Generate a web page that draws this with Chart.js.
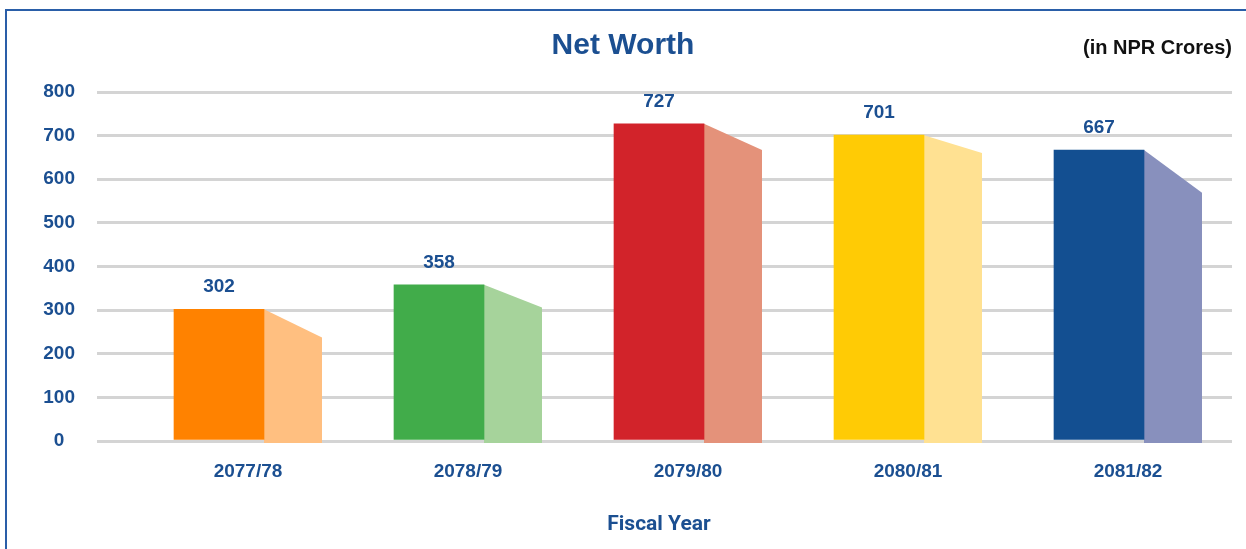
<!DOCTYPE html>
<html>
<head>
<meta charset="utf-8">
<script src="https://cdn.jsdelivr.net/npm/chart.js@4.4.1/dist/chart.umd.min.js"></script>
<style>
  body { margin: 0; background: #fff; }
  #wrap { position: relative; width: 1246px; height: 549px; overflow: hidden; }
  #frame { position: absolute; left: 5px; top: 9px; width: 1300px; height: 600px; border: 2px solid #2a5ea8; box-sizing: border-box; }
  #netWorth { position: absolute; left: 0; top: 0; }
</style>
</head>
<body>
<div id="wrap">
  <div id="frame"></div>
  <canvas id="netWorth" width="1246" height="549"></canvas>
</div>
<script>
// fiscal years and net worth (NPR crores)
const years = ['2077/78', '2078/79', '2079/80', '2080/81', '2081/82'];
const netWorth = [302, 358, 727, 701, 667];
// where the lighter side piece ends on its right edge
const sideEnd = [237, 306, 667, 660, 569];
const yTicks = [0, 100, 200, 300, 400, 500, 600, 700, 800];

const barColors = ['#ff8200', '#41ac4a', '#d2232a', '#ffcb05', '#134f91'];
const sideColors = ['#ffbf80', '#a6d39b', '#e4927a', '#ffe192', '#8890bd'];

const blue = '#1b4f91';

// light sloped piece next to each bar
const sidePlugin = {
    id: 'sidePiece',
    beforeDatasetsDraw(chart) {
        const ctx = chart.ctx;
        const y = chart.scales.y;
        const meta = chart.getDatasetMeta(0);
        meta.data.forEach((bar, i) => {
            const x0 = bar.x + bar.width / 2;
            const x1 = x0 + 58;
            const base = y.getPixelForValue(0) + 2;
            ctx.save();
            ctx.fillStyle = sideColors[i];
            ctx.beginPath();
            ctx.moveTo(x0, y.getPixelForValue(netWorth[i]));
            ctx.lineTo(x1, y.getPixelForValue(sideEnd[i]));
            ctx.lineTo(x1, base);
            ctx.lineTo(x0, base);
            ctx.closePath();
            ctx.fill();
            ctx.restore();
        });
    },
    afterDatasetsDraw(chart) {
        const ctx = chart.ctx;
        const meta = chart.getDatasetMeta(0);
        ctx.save();
        ctx.font = 'bold 19px "Liberation Sans", Arial, sans-serif';
        ctx.fillStyle = blue;
        ctx.textAlign = 'center';
        ctx.textBaseline = 'middle';
        meta.data.forEach((bar, i) => {
            ctx.fillText(netWorth[i], bar.x, bar.y - 22);
        });
        // unit note, top right
        ctx.font = 'bold 20px "Liberation Sans", Arial, sans-serif';
        ctx.fillStyle = '#111';
        ctx.textAlign = 'right';
        ctx.fillText('(in NPR Crores)', 1232, 48);
        ctx.restore();
    }
};

const ctx = document.getElementById('netWorth').getContext('2d');
let netWorthChart = new Chart(ctx, {
    type: 'bar',
    data: {
        labels: years,
        datasets: [{
            label: 'Net Worth',
            data: netWorth,
            backgroundColor: barColors,
            barThickness: 90,
            borderWidth: 0
        }]
    },
    plugins: [sidePlugin],
    options: {
        responsive: false,
        animation: false,
        layout: { padding: { left: 0, right: 0, top: 0, bottom: 0 } },
        plugins: {
            legend: { display: false },
            tooltip: { enabled: false },
            title: {
                display: true,
                text: 'Net Worth',
                color: blue,
                font: { family: '"Liberation Sans", Arial, sans-serif', size: 30, weight: 'bold' },
                padding: { top: 28, bottom: 28 }
            }
        },
        scales: {
            x: {
                offset: true,
                grid: { display: false, drawTicks: false },
                border: { display: false },
                ticks: {
                    color: blue,
                    padding: 19,
                    labelOffset: 29,
                    font: { family: '"Liberation Sans", Arial, sans-serif', size: 19, weight: 'bold' }
                },
                title: {
                    display: true,
                    text: 'Fiscal Year',
                    color: blue,
                    font: { family: '"Liberation Sans Narrow", "Roboto", sans-serif', size: 21, weight: 'bold' },
                    padding: { top: 10, bottom: 12 }
                }
            },
            y: {
                min: 0,
                max: 800,
                afterBuildTicks(scale) {
                    scale.ticks = yTicks.map(v => ({ value: v }));
                },
                afterFit(scale) { scale.width = 109; },
                grid: { color: '#d4d4d4', lineWidth: 3, tickLength: 12 },
                border: { display: false },
                ticks: {
                    color: blue,
                    padding: 22,
                    crossAlign: 'center',
                    font: { family: '"Liberation Sans", Arial, sans-serif', size: 19, weight: 'bold' }
                }
            },
            y2: {
                position: 'right',
                min: 0,
                max: 800,
                afterBuildTicks(scale) {
                    scale.ticks = yTicks.map(v => ({ value: v }));
                },
                afterFit(scale) { scale.width = 37; },
                grid: { color: '#d4d4d4', lineWidth: 3, tickLength: 23, drawOnChartArea: false },
                border: { display: false },
                ticks: { display: false }
            }
        }
    }
});
</script>
</body>
</html>
